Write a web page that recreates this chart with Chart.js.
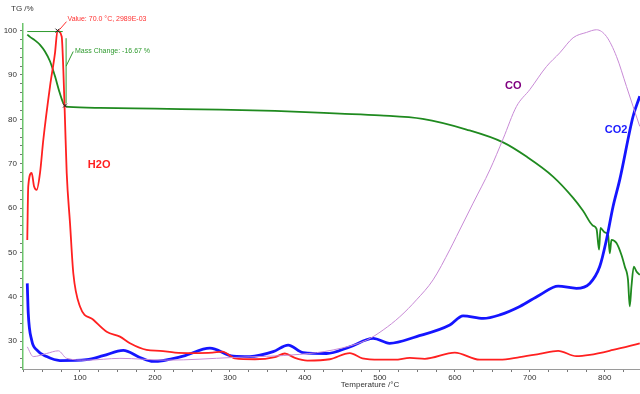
<!DOCTYPE html>
<html>
<head>
<meta charset="utf-8">
<script src="https://cdn.jsdelivr.net/npm/chart.js@4"></script>
<style>
  html, body { margin: 0; padding: 0; background: #fff; }
  #wrap { width: 640px; height: 394px; }
</style>
</head>
<body>
<div id="wrap"><canvas id="tgChart"></canvas></div>
<script>
// TG curve (mass %)
const tgTemp = [29.7, 33.3, 40, 46.7, 53.3, 60, 66.7, 72.4, 76.9, 80, 84.4, 126.7, 200, 286.7, 360, 446.7, 500, 557, 615.6, 664.4, 695.6, 731, 757.8, 771, 784.4, 789, 792.4, 794.3, 800, 804.4, 806.7, 808.9, 815.6, 822.3, 826.7, 831, 833.3, 835.6, 838.7, 842.3, 846.7];
const tgMass = [99.1, 98.6, 97.8, 96.8, 95.3, 93.1, 89.7, 86.3, 84.0, 83.1, 82.8, 82.6, 82.4, 82.2, 81.9, 81.3, 80.9, 80.1, 77.7, 74.8, 71.6, 67.1, 62.3, 59.4, 56.0, 55.3, 50.6, 55.5, 54.5, 54.0, 49.8, 52.8, 52.1, 49.4, 46.8, 43.8, 37.8, 42.3, 46.8, 45.7, 44.9];

// MS ion currents, scaled onto the same axis
const h2oTemp = [29.7, 31, 35.6, 38.7, 42.3, 46.7, 51.1, 60, 66.7, 70, 75.6, 77.8, 80, 82.3, 86.7, 91.1, 100, 117.8, 135.6, 153.3, 166.7, 188.9, 206.7, 226.7, 250, 276.7, 290, 306.7, 333.3, 360, 373.3, 386.7, 403.3, 433.3, 460, 476.7, 500, 520, 540, 560, 600, 633, 660, 686.7, 713, 737.8, 762, 780, 811, 846.7];
const h2oVal = [52.8, 64.9, 67.9, 64.9, 64.1, 67.9, 75.4, 87.4, 95, 100, 98.7, 91.2, 79.9, 67.9, 56.6, 45.3, 37.8, 34.8, 32.1, 31.0, 29.5, 28.0, 27.8, 27.4, 27.3, 27.4, 27.6, 26.1, 25.9, 26.4, 27.2, 26.2, 25.6, 25.9, 27.3, 26.1, 25.8, 25.8, 26.2, 26.0, 27.4, 25.8, 25.8, 26.4, 27.1, 27.8, 26.6, 26.9, 28.0, 29.5];

const coTemp = [29.7, 37.7, 55.6, 71.1, 82.3, 108.9, 153.3, 215.6, 304.4, 393.3, 437.7, 482.2, 504.4, 526.7, 548.9, 571, 593.3, 602.2, 624.4, 646.7, 664.4, 682.2, 700, 722.2, 740, 757.8, 775.6, 789, 802.2, 815.6, 829, 837.8, 846.7];
const coVal = [28.7, 26.5, 27.2, 27.8, 26.1, 25.7, 26.1, 25.7, 26.3, 27.0, 28.0, 30.2, 32.5, 35.5, 39.3, 43.8, 50.6, 53.6, 61.1, 68.6, 75.6, 82.9, 86.7, 91.9, 95.0, 98.4, 99.6, 100.2, 98.7, 94.2, 87.4, 82.9, 78.4];

const co2Temp = [29.7, 31, 35.6, 42.3, 55.6, 73.3, 108.9, 131, 157.7, 180, 197.7, 237.7, 273.3, 304.4, 326.7, 357.7, 377.7, 397.7, 428.9, 460, 491, 513, 548.9, 593.3, 611, 637.8, 660, 686.7, 713.3, 737.8, 762.2, 780, 793.3, 802.2, 811, 820, 837.8, 846.7];
const co2Val = [43.0, 36.3, 30.2, 28.0, 26.5, 25.6, 25.8, 26.7, 27.9, 26.3, 25.4, 26.6, 28.4, 26.6, 26.5, 27.6, 29.1, 27.4, 27.2, 28.7, 30.6, 29.5, 31.0, 33.6, 35.7, 35.1, 35.9, 37.8, 40.4, 42.4, 41.9, 43.0, 46.8, 52.8, 60.3, 66.4, 80.7, 85.2];

// annotation values
const peakTemp = 70.0;
const peakVal = 100;
const massTop = 99.8;
const massBottom = 83.1;
const massStepTemp = 80;

function toPoints(xs, ys) {
  return xs.map((x, i) => ({ x: x, y: ys[i] }));
}

const fontFamily = "'Liberation Sans', Arial, sans-serif";

const overlayPlugin = {
  id: "overlay",
  afterDatasetsDraw(chart) {
    const ctx = chart.ctx;
    const xs = chart.scales.x;
    const ys = chart.scales.y;
    const px = (v) => xs.getPixelForValue(v);
    const py = (v) => ys.getPixelForValue(v);
    ctx.save();

    // mass change dimension lines
    ctx.strokeStyle = "#2e9a2e";
    ctx.lineWidth = 1;
    ctx.beginPath();
    ctx.moveTo(px(29.7), py(massTop));
    ctx.lineTo(px(77), py(massTop));
    ctx.moveTo(px(massStepTemp + 1.5), py(massTop - 1.5));
    ctx.lineTo(px(massStepTemp + 1.5), py(massBottom + 0.5));
    ctx.moveTo(px(massStepTemp + 1.5), py(92));
    ctx.lineTo(px(91), py(95.3));
    ctx.stroke();

    // red leader for the peak value
    ctx.strokeStyle = "#ff3030";
    ctx.beginPath();
    ctx.moveTo(px(peakTemp) + 2, py(peakVal) - 1);
    ctx.lineTo(px(peakTemp) + 9, py(peakVal) - 9);
    ctx.stroke();

    // markers
    ctx.strokeStyle = "#222";
    ctx.lineWidth = 1;
    [[peakTemp, peakVal], [massStepTemp, massBottom]].forEach(([t, v]) => {
      const x = px(t), y = py(v);
      ctx.beginPath();
      ctx.moveTo(x - 2, y - 2); ctx.lineTo(x + 2, y + 2);
      ctx.moveTo(x + 2, y - 2); ctx.lineTo(x - 2, y + 2);
      ctx.stroke();
    });

    ctx.textBaseline = "middle";
    ctx.textAlign = "left";
    ctx.font = "7px " + fontFamily;
    ctx.fillStyle = "#ff3030";
    ctx.fillText("Value: " + peakTemp.toFixed(1) + " °C, 2989E-03", px(peakTemp) + 10, py(peakVal) - 12);
    ctx.fillStyle = "#2e9a2e";
    ctx.fillText("Mass Change: -16.67 %", 75, 51);

    ctx.font = "bold 11px " + fontFamily;
    ctx.fillStyle = "#ff2020";
    ctx.fillText("H2O", px(110.5), py(69.8));
    ctx.fillStyle = "#800080";
    ctx.fillText("CO", px(667), py(87.5));
    ctx.fillStyle = "#1a1aff";
    ctx.fillText("CO2", px(800), py(77.6));

    ctx.font = "8px " + fontFamily;
    ctx.fillStyle = "#333";
    ctx.fillText("TG /%", 11, 9);
    ctx.textAlign = "center";
    ctx.fillText("Temperature /°C", 370, 385);
    ctx.restore();
  },
};

const lineOpts = {
  pointRadius: 0,
  fill: false,
  cubicInterpolationMode: "monotone",
};

new Chart(document.getElementById("tgChart"), {
  type: "line",
  data: {
    datasets: [
      { ...lineOpts, label: "CO", data: toPoints(coTemp, coVal), borderColor: "#c88ad6", borderWidth: 1 },
      { ...lineOpts, label: "H2O", data: toPoints(h2oTemp, h2oVal), borderColor: "#ff2020", borderWidth: 1.8 },
      { ...lineOpts, label: "CO2", data: toPoints(co2Temp, co2Val), borderColor: "#1515ff", borderWidth: 2.8 },
      { ...lineOpts, label: "TG", data: toPoints(tgTemp, tgMass), borderColor: "#1f8a1f", borderWidth: 1.8 },
    ],
  },
  options: {
    responsive: true,
    maintainAspectRatio: false,
    animation: false,
    layout: { padding: { top: 24, right: 0, left: 0, bottom: 0 } },
    plugins: {
      legend: { display: false },
      tooltip: { enabled: false },
    },
    scales: {
      x: {
        type: "linear",
        min: 24,
        max: 847,
        afterFit: (scale) => { scale.height = 25; },
        border: { display: true, color: "#9a9a9a", width: 1 },
        grid: { display: true, drawOnChartArea: false, tickLength: 3, color: "#777" },
        ticks: {
          stepSize: 25,
          includeBounds: false,
          autoSkip: false,
          maxRotation: 0,
          padding: 1,
          color: "#333",
          font: { size: 8, family: fontFamily },
          callback: (v) => (v % 100 === 0 ? v : ""),
        },
      },
      y: {
        min: 23.7,
        max: 101.5,
        afterFit: (scale) => { scale.width = 23; },
        border: { display: true, color: "#6cc46c", width: 1.5 },
        grid: { display: true, drawOnChartArea: false, tickLength: 3, color: "#777" },
        ticks: {
          stepSize: 2,
          includeBounds: false,
          autoSkip: false,
          padding: 3,
          color: "#333",
          font: { size: 8, family: fontFamily },
          callback: (v) => (v % 10 === 0 ? v : ""),
        },
      },
    },
  },
  plugins: [overlayPlugin],
});
</script>
</body>
</html>
